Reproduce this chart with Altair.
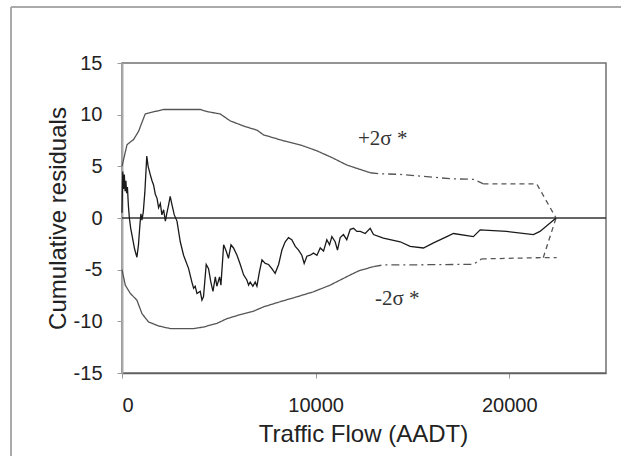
import altair as alt
import pandas as pd

# ---- data ----
cure_x = [0, 40, 80, 120, 160, 200, 240, 280, 330, 380, 450, 550, 650, 770, 850, 920, 975, 1030,
          1100, 1180, 1280, 1350, 1460, 1550, 1630, 1720, 1810, 1890, 1980, 2060, 2150, 2240, 2320,
          2410, 2490, 2580, 2700, 2840, 3010, 3180, 3440, 3610, 3700, 3780, 3870, 4040, 4130, 4210,
          4350, 4470, 4590, 4700, 4820, 4900, 5040, 5110, 5250, 5380, 5500, 5630, 5760, 5940, 6110,
          6280, 6450, 6540, 6620, 6760, 6880, 6970, 7100, 7230, 7400, 7570, 7740, 7910, 8090, 8260,
          8430, 8600, 8770, 8950, 9120, 9290, 9410, 9550, 9720, 9890, 10070, 10240, 10410, 10580,
          10720, 10840, 11010, 11130, 11270, 11440, 11610, 11790, 11960, 12130, 12310, 12560, 12820,
          12990, 13500, 14370, 14880, 15570, 16090, 16780, 17120, 18150, 18500, 19870, 21250, 21590,
          22420]
cure_y = [0.5, 4.5, 2.8, 4.2, 2.6, 3.6, 2.4, 3.0, 1.2, 0.0, -1.0, -2.0, -3.0, -3.8, -2.6, -0.8, 0.4,
          -0.2, 0.6, 2.5, 6.0, 5.0, 4.2, 3.6, 3.2, 2.3, 1.9, 1.0, 1.4, 0.3, 0.8, -0.3, 0.5, 1.3, 2.1,
          1.3, 0.3, -0.3, -2.3, -3.6, -4.9, -6.2, -6.8, -6.6, -7.3, -7.1, -7.95, -7.6, -4.5, -4.9,
          -6.2, -7.1, -5.7, -6.6, -5.7, -6.5, -2.6, -3.2, -3.9, -2.6, -2.9, -3.6, -4.5, -5.5, -6.0,
          -6.5, -6.2, -6.6, -6.2, -6.6, -5.2, -4.05, -4.4, -4.5, -4.9, -5.35, -4.5, -3.1, -2.3, -1.9,
          -2.1, -2.75, -3.1, -3.6, -4.4, -3.7, -3.6, -3.4, -3.6, -2.9, -3.2, -2.1, -2.6, -1.8, -2.3,
          -3.1, -1.9, -1.6, -2.1, -1.1, -1.0, -1.3, -1.3, -1.5, -1.0, -1.6, -1.95, -2.3, -2.75, -2.9,
          -2.4, -1.8, -1.5, -1.8, -1.15, -1.3, -1.6, -1.3, 0.0]

upper_x = [0, 260, 600, 860, 1030, 1200, 1460, 2150, 4040, 4390, 5070, 5590, 6280, 6970, 7310, 8340,
           9200, 10070, 10920, 11610, 12300, 12820, 13330, 14370, 15400, 16950, 18150, 18670, 21420,
           22420]
upper_y = [5.0, 7.1, 7.6, 8.4, 9.25, 10.07, 10.2, 10.5, 10.5, 10.3, 10.07, 9.4, 8.9, 8.5, 8.05, 7.47,
           7.08, 6.5, 5.78, 5.13, 4.7, 4.38, 4.28, 4.22, 4.06, 3.8, 3.74, 3.31, 3.31, 0.0]
upper_seg = ["solid"] * 22 + ["dashdot"] * 6 + ["dash"] * 2

lower_x = [0, 170, 430, 770, 1030, 1370, 1890, 2490, 3700, 4210, 4900, 5420, 6110, 6790, 7310, 8170,
           9030, 9890, 10750, 11610, 12220, 12990, 13500, 14710, 18150, 18580, 21760, 22450]
lower_y = [-5.0, -6.5, -7.3, -7.95, -9.25, -10.06, -10.45, -10.7, -10.7, -10.55, -10.2, -9.74, -9.35,
           -9.02, -8.6, -8.1, -7.63, -7.14, -6.5, -5.68, -5.12, -4.7, -4.54, -4.54, -4.48, -3.96,
           -3.83, -3.83]
lower_seg = ["solid"] * 22 + ["dashdot"] * 4 + ["dash"] * 2

# lower bound joins the curve at the end
join_x = [21760, 22420]
join_y = [-3.83, 0.0]

label_text = ["+2σ *", "-2σ *"]
label_x = [12190, 13070]
label_y = [7.66, -7.8]

# ---- build tables ----
cure = pd.DataFrame({"x": cure_x, "y": cure_y})


def segs(xs, ys, seg, name):
    rows = []
    order = []
    for i, s in enumerate(seg):
        if not order or order[-1] != s:
            order.append(s)
    for k, s in enumerate(order):
        idx = [i for i, v in enumerate(seg) if v == s]
        # include previous point to connect segments
        if k > 0:
            idx = [idx[0] - 1] + idx
        for j, i in enumerate(idx):
            rows.append({"x": xs[i], "y": ys[i], "seg": s, "grp": f"{name}-{s}", "o": j})
    return rows


rows = segs(upper_x, upper_y, upper_seg, "u") + segs(lower_x, lower_y, lower_seg, "l")
for j, (a, b) in enumerate(zip(join_x, join_y)):
    rows.append({"x": a, "y": b, "seg": "dash", "grp": "join", "o": j})
bounds = pd.DataFrame(rows)
labels = pd.DataFrame({"t": label_text, "x": label_x, "y": label_y})

xs = alt.Scale(domain=[0, 25000], nice=False, zero=False)
ys = alt.Scale(domain=[-15, 15], nice=False, zero=False)

xaxis = alt.Axis(values=[0, 10000, 20000], labelExpr="'' + datum.value", title="Traffic Flow (AADT)",
                 grid=False, domainColor="#606060", domainWidth=1.5, tickColor="#999999", tickSize=5,
                 labelFont="Liberation Sans", labelFontSize=20, labelColor="#222222", labelPadding=17,
                 titleFont="Liberation Sans", titleFontSize=24, titleFontWeight="normal",
                 titleColor="#222222", titleX=241, titleY=68, titleBaseline="alphabetic")
yaxis = alt.Axis(values=[-15, -10, -5, 0, 5, 10, 15], labelExpr="'' + datum.value",
                 title="Cumulative residuals", grid=False, domainColor="#aaaaaa", domainWidth=2,
                 tickColor="#999999", tickSize=5, labelFont="Liberation Sans", labelFontSize=20,
                 labelColor="#222222", labelPadding=15, titleFont="Liberation Sans", titleFontSize=24,
                 titleFontWeight="normal", titleColor="#222222", titleX=-57, titleY=155,
                 titleAngle=-90, titleBaseline="alphabetic", titleAnchor="middle")

base = alt.Chart(cure)

zero = alt.Chart(pd.DataFrame({"y": [0]})).mark_rule(color="#333333", strokeWidth=1.3).encode(
    y=alt.Y("y:Q", scale=ys, axis=yaxis)
)

bound_lines = alt.Chart(bounds).mark_line(color="#555555", strokeWidth=1.3).encode(
    x=alt.X("x:Q", scale=xs, axis=xaxis),
    y=alt.Y("y:Q", scale=ys, axis=yaxis),
    detail="grp:N",
    order="o:Q",
    strokeDash=alt.StrokeDash("seg:N", scale=alt.Scale(domain=["solid", "dashdot", "dash"],
                                                       range=[[1, 0], [8, 4, 2, 4], [5, 4]]),
                              legend=None),
)

cure_line = base.mark_line(color="#1a1a1a", strokeWidth=1.3).encode(
    x=alt.X("x:Q", scale=xs, axis=xaxis),
    y=alt.Y("y:Q", scale=ys, axis=yaxis),
    order=alt.Order("x:Q"),
)

text = alt.Chart(labels).mark_text(font="Liberation Serif", fontSize=21, align="left",
                                   baseline="middle", color="#333333").encode(
    x=alt.X("x:Q", scale=xs, axis=xaxis),
    y=alt.Y("y:Q", scale=ys, axis=yaxis),
    text="t:N",
)

# outer picture frame (left and top edges visible)
frame_v = alt.Chart(pd.DataFrame({"a": [0]})).mark_rule(color="#aaaaaa", strokeWidth=2).encode(
    x=alt.value(-111), y=alt.value(-56), y2=alt.value(420)
)
frame_h = alt.Chart(pd.DataFrame({"a": [0]})).mark_rule(color="#aaaaaa", strokeWidth=2).encode(
    x=alt.value(-111), x2=alt.value(520), y=alt.value(-56)
)

chart = alt.layer(frame_v, frame_h, zero, bound_lines, cure_line, text).properties(
    width=484, height=310,
    autosize=alt.AutoSizeParams(type="none"),
    padding={"left": 122, "top": 63, "right": 15, "bottom": 83},
    background="white",
).configure_view(stroke="#707070", strokeWidth=1.5)

chart.save("out.html", embed_options={"renderer": "svg", "actions": False})
